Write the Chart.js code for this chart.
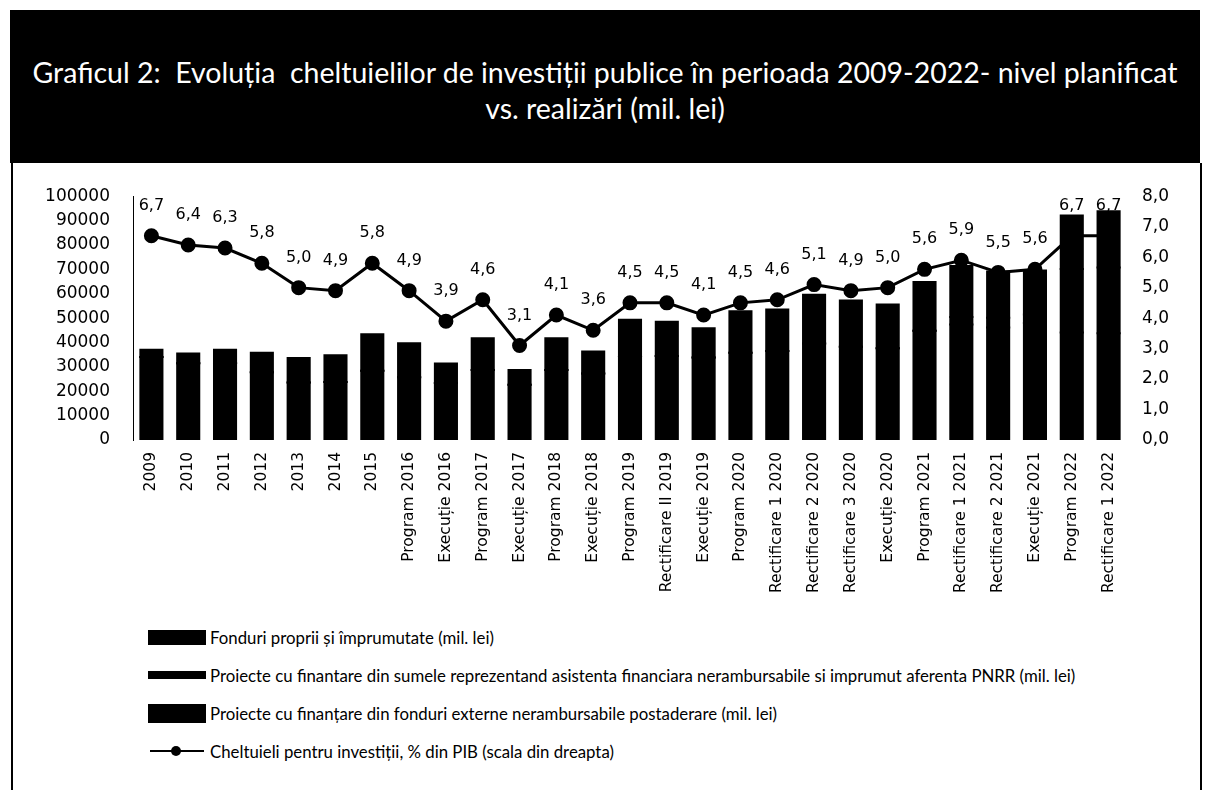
<!DOCTYPE html>
<html>
<head>
<meta charset="utf-8">
<script src="https://cdn.jsdelivr.net/npm/chart.js@4/dist/chart.umd.min.js"></script>
<style>
  body { margin: 0; background: #fff; width: 1207px; height: 790px; overflow: hidden; position: relative; }
  #titlu {
    position: absolute; left: 10px; top: 10px; width: 1190px; height: 153px; box-sizing: border-box; padding-top: 6px;
    background: #000; color: #fff; font-family: Lato, sans-serif; font-size: 28.5px;
    line-height: 36px; text-align: center; display: flex; align-items: center; justify-content: center;
  }
  #cadru {
    position: absolute; left: 11px; top: 163px; width: 1187px; height: 640px;
    border-left: 2px solid #000; border-right: 2px solid #000;
  }
  #grafic { position: absolute; left: 12px; top: 163px; }
  #legenda { position: absolute; left: 148px; top: 618px; font-family: Lato, sans-serif; font-size: 16.8px; color: #000; }
  .item { height: 38px; display: flex; align-items: center; position: absolute; left: 0; white-space: nowrap; }
  .sw { display: inline-block; width: 58px; margin-right: 4px; position: relative; }
</style>
</head>
<body>
<div id="titlu"><div>Graficul 2:&nbsp; Evoluția&nbsp; cheltuielilor de investiții publice în perioada 2009-2022- nivel planificat<br>vs. realizări (mil. lei)</div></div>
<div id="cadru"></div>
<canvas id="grafic" width="1188" height="450"></canvas>
<div id="legenda"></div>
<script>
// categorii
const categorii = ['2009', '2010', '2011', '2012', '2013', '2014', '2015',
  'Program 2016', 'Execuție 2016', 'Program 2017', 'Execuție 2017', 'Program 2018', 'Execuție 2018',
  'Program 2019', 'Rectificare II 2019', 'Execuție 2019', 'Program 2020', 'Rectificare 1 2020',
  'Rectificare 2 2020', 'Rectificare 3 2020', 'Execuție 2020', 'Program 2021', 'Rectificare 1 2021',
  'Rectificare 2 2021', 'Execuție 2021', 'Program 2022', 'Rectificare 1 2022'];

// mil. lei (estimari din grafic)
const fonduriProprii = [34000, 31500, 31500, 27800, 23600, 23800, 28400, 25700, 23400, 28700, 22700, 28700, 27300,
  34300, 34500, 33800, 35800, 36500, 39600, 38200, 37600, 44800, 47400, 46100, 48000, 44100, 43800];
const pnrr = [0, 0, 0, 0, 0, 0, 0, 0, 0, 0, 0, 0, 0,
  0, 0, 0, 0, 0, 0, 0, 0, 0, 3000, 4000, 3500, 26000, 27000];
const fonduriExterne = [3000, 4000, 5500, 8000, 10000, 11000, 15000, 14000, 8000, 13000, 6000, 13000, 9000,
  15000, 14000, 12000, 17000, 17000, 20000, 19000, 18000, 20000, 21000, 19000, 18000, 22000, 23000];

// % din PIB
const procentPIB = [6.7, 6.4, 6.3, 5.8, 5.0, 4.9, 5.8, 4.9, 3.9, 4.6, 3.1, 4.1, 3.6,
  4.5, 4.5, 4.1, 4.5, 4.6, 5.1, 4.9, 5.0, 5.6, 5.9, 5.5, 5.6, 6.7, 6.7];

const virgula = v => Number(v).toFixed(1).replace('.', ',');

// etichete pe linie
const eticheteLinie = {
  id: 'eticheteLinie',
  afterDatasetsDraw(chart) {
    const ctx = chart.ctx;
    const meta = chart.getDatasetMeta(3);
    ctx.save();
    ctx.font = '16px "DejaVu Sans"';
    ctx.fillStyle = '#000';
    ctx.textAlign = 'center';
    ctx.textBaseline = 'middle';
    meta.data.forEach((pt, i) => {
      ctx.fillText(virgula(procentPIB[i]), pt.x, pt.y - 30);
    });
    ctx.restore();
  }
};

const bara = { backgroundColor: '#000', barPercentage: 0.6, categoryPercentage: 1, order: 1, inflateAmount: 1 };

const ctx = document.getElementById('grafic');
const chart = new Chart(ctx, {
  type: 'bar',
  data: {
    labels: categorii,
    datasets: [
      { ...bara, label: 'Fonduri proprii și împrumutate (mil. lei)', data: fonduriProprii, swH: 15 },
      { ...bara, label: 'Proiecte cu finantare din sumele reprezentand asistenta financiara nerambursabile si imprumut aferenta PNRR (mil. lei)', data: pnrr, swH: 8 },
      { ...bara, label: 'Proiecte cu finanțare din fonduri externe nerambursabile postaderare (mil. lei)', data: fonduriExterne, swH: 19 },
      { type: 'line', label: 'Cheltuieli pentru investiții, % din PIB (scala din dreapta)', data: procentPIB,
        yAxisID: 'y1', borderColor: '#000', backgroundColor: '#000', borderWidth: 3,
        pointRadius: 6, pointBackgroundColor: '#000', tension: 0, order: 0 }
    ]
  },
  options: {
    responsive: false,
    animation: false,
    layout: { padding: { top: 29, left: 0, right: 0, bottom: 0 } },
    plugins: {
      legend: { display: false },
      tooltip: { enabled: false }
    },
    scales: {
      x: {
        stacked: true,
        grid: { display: false, drawTicks: false },
        border: { display: false },
        ticks: { autoSkip: false, minRotation: 90, maxRotation: 90, padding: 12,
          color: '#000', font: { family: 'DejaVu Sans', size: 15.5 } },
        afterFit: a => { a.height = 173; }
      },
      y: {
        stacked: true,
        min: 0, max: 100000,
        grid: { display: false, drawTicks: false },
        border: { display: true, color: '#000', width: 1, dash: [6, 2] },
        ticks: { stepSize: 10000, padding: 23, color: '#000',
          font: { family: 'DejaVu Sans', size: 17 }, callback: v => String(v) },
        afterFit: a => { a.width = 121; }
      },
      y1: {
        position: 'right',
        min: 0, max: 8,
        grid: { display: false, drawTicks: false },
        border: { display: false },
        ticks: { stepSize: 1, padding: 15, color: '#000',
          font: { family: 'DejaVu Sans', size: 17 }, callback: v => virgula(v) },
        afterFit: a => { a.width = 73; }
      }
    }
  },
  plugins: [eticheteLinie]
});

// legenda HTML din seturile de date
const leg = document.getElementById('legenda');
chart.data.datasets.forEach((ds, i) => {
  const row = document.createElement('div');
  row.className = 'item';
  row.style.top = (i * 38) + 'px';
  const sw = document.createElement('span');
  sw.className = 'sw';
  if (ds.type === 'line') {
    sw.style.height = '14px';
    sw.innerHTML = '<span style="position:absolute;left:2px;right:2px;top:6px;height:2px;background:#000"></span>' +
      '<span style="position:absolute;left:23px;top:2px;width:10px;height:10px;border-radius:50%;background:#000"></span>';
  } else {
    sw.style.height = ds.swH + 'px';
    sw.style.background = ds.backgroundColor;
  }
  row.appendChild(sw);
  row.appendChild(document.createTextNode(ds.label));
  leg.appendChild(row);
});
</script>
</body>
</html>
